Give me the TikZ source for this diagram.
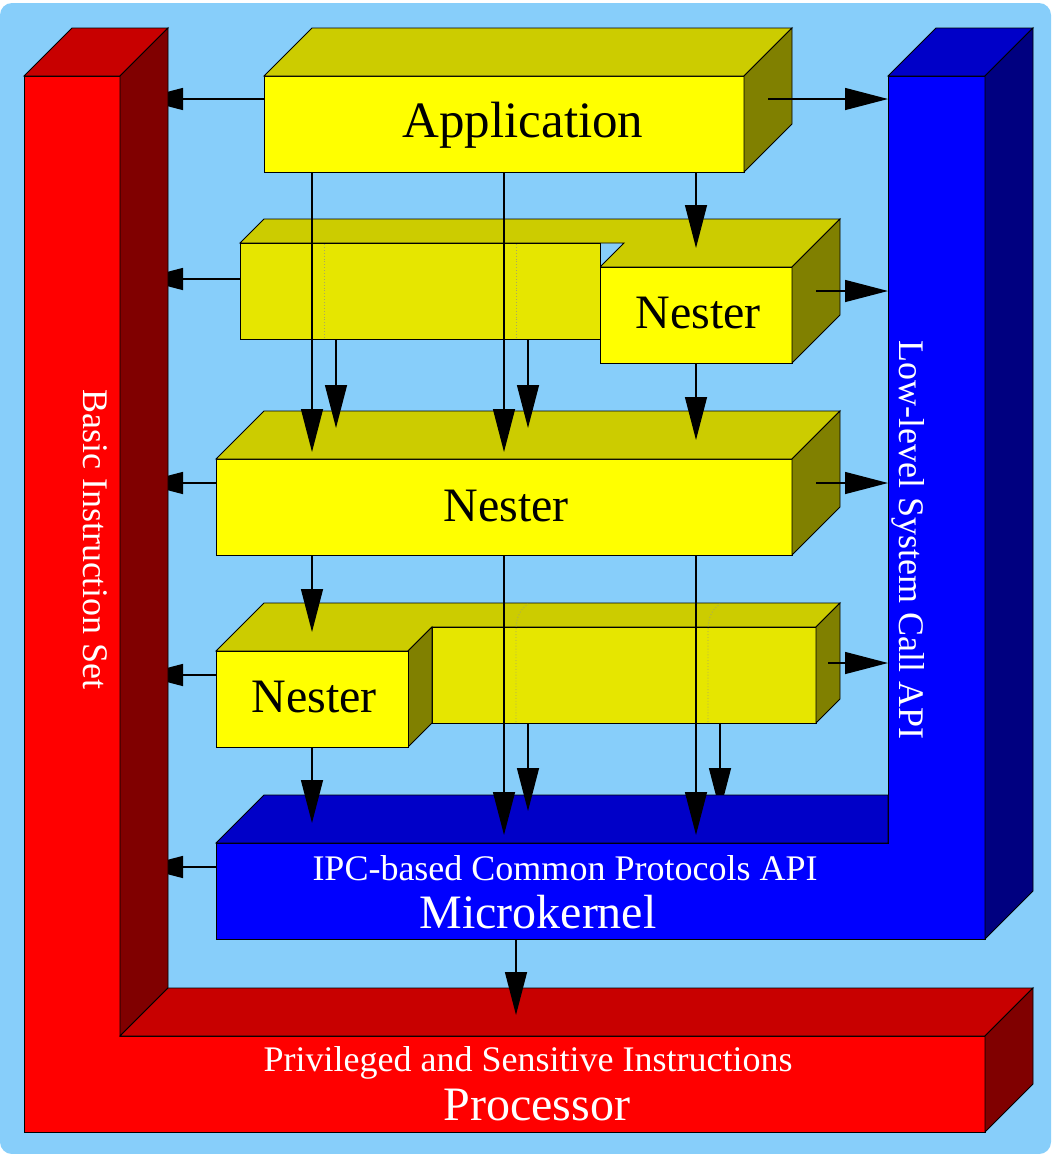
\documentclass[tikz,border=0pt]{standalone}
\usepackage{fontspec}
\setmainfont{Liberation Serif}
\usetikzlibrary{arrows.meta}
\definecolor{bgc}{HTML}{87CEFA}
\definecolor{yfrontc}{HTML}{FFFF00}
\definecolor{yextc}{HTML}{E6E600}
\definecolor{ytopc}{HTML}{CCCC00}
\definecolor{ysidec}{HTML}{808000}
\definecolor{rfrontc}{HTML}{FF0000}
\definecolor{rtopc}{HTML}{C80000}
\definecolor{rsidec}{HTML}{800000}
\definecolor{bfrontc}{HTML}{0000FF}
\definecolor{btopc}{HTML}{0000C8}
\definecolor{bsidec}{HTML}{000080}
\definecolor{dotc}{HTML}{A8A860}
\tikzset{
  face/.style={draw=black, line width=0.9pt, line join=miter},
  flow/.style={line width=1.4pt, -{Triangle[length=43pt,width=22pt]}},
  hiddenline/.style={draw=dotc, line width=0.9pt, dotted},
  lbl/.style={inner sep=0pt, anchor=base},
  bigtext/.style={lbl, font=\fontsize{48}{56}\selectfont},
  apptext/.style={lbl, font=\fontsize{51}{60}\selectfont},
  smalltext/.style={lbl, text=white, font=\fontsize{36}{42}\selectfont},
  bigwhite/.style={lbl, text=white, font=\fontsize{48}{56}\selectfont},
}
\begin{document}
\begin{tikzpicture}[x=1pt,y=-1pt]
\useasboundingbox (0,0) rectangle (1053,1154);
\fill[bgc, rounded corners=12pt] (0,3) rectangle (1051,1154);

% ---- named arrow end points ----
\coordinate (app-b1) at (312,172);  \coordinate (n3-t1) at (312,452);
\coordinate (app-b2) at (504,172);  \coordinate (n3-t2) at (504,452);
\coordinate (app-b3) at (696,172);  \coordinate (n2-t)  at (696,248);
\coordinate (e2-b1)  at (336,339);  \coordinate (n3-t3) at (336,428);
\coordinate (e2-b2)  at (528,339);  \coordinate (n3-t4) at (528,428);
\coordinate (n2-b)   at (696,363);  \coordinate (n3-t5) at (696,440);
\coordinate (n3-b1)  at (312,555);  \coordinate (n4-t)  at (312,632);
\coordinate (n3-b2)  at (504,555);  \coordinate (mk-t1) at (504,835);
\coordinate (n3-b3)  at (696,555);  \coordinate (mk-t2) at (696,835);
\coordinate (n4-b)   at (312,747);  \coordinate (mk-t3) at (312,823);
\coordinate (e4-b1)  at (528,723);  \coordinate (mk-t4) at (528,811);
\coordinate (e4-b2)  at (720,723);  \coordinate (mk-t5) at (720,811);
\coordinate (mk-b)   at (516,939);  \coordinate (pr-t)  at (516,1015);
\coordinate (app-r)  at (768,99);   \coordinate (sys-1) at (888,99);
\coordinate (n2-r)   at (816,291);  \coordinate (sys-2) at (888,291);
\coordinate (n3-r)   at (816,483);  \coordinate (sys-3) at (888,483);
\coordinate (e4-r)   at (828,663);  \coordinate (sys-4) at (888,663);
\coordinate (app-l)  at (264,99);   \coordinate (bis-1) at (140,99);
\coordinate (e2-l)   at (240,279);  \coordinate (bis-2) at (140,279);
\coordinate (n3-l)   at (216,483);  \coordinate (bis-3) at (140,483);
\coordinate (n4-l)   at (216,675);  \coordinate (bis-4) at (140,675);
\coordinate (mk-l)   at (216,867);  \coordinate (bis-5) at (140,867);

% arrow partly hidden by microkernel top face
\draw[flow] (e4-b2) -- (mk-t5);

% ---- blue: system call API column + microkernel ----
\draw[face, fill=bfrontc] (888,76) -- (985,76) -- (985,939) -- (216,939) -- (216,843) -- (888,843) -- cycle;
\draw[face, fill=btopc] (888,76) -- (936,28) -- (1033,28) -- (985,76) -- cycle;
\draw[face, fill=bsidec] (985,76) -- (1033,28) -- (1033,891) -- (985,939) -- cycle;
\draw[face, fill=btopc] (216,843) -- (264,795) -- (888,795) -- (888,843) -- cycle;

% ---- Application ----
\draw[face, fill=yfrontc] (264,76) rectangle (744,172);
\draw[face, fill=ytopc] (264,76) -- (312,28) -- (792,28) -- (744,76) -- cycle;
\draw[face, fill=ysidec] (744,76) -- (792,28) -- (792,124) -- (744,172) -- cycle;

% ---- layer 2 ----
\draw[face, fill=ytopc] (240,243) -- (264,219) -- (840,219) -- (792,267) -- (600,267) -- (624,243) -- cycle;
\draw[face, fill=yextc] (240,243) rectangle (600,339);
\draw[face, fill=yfrontc] (600,267) rectangle (792,363);
\draw[face, fill=ysidec] (792,267) -- (840,219) -- (840,315) -- (792,363) -- cycle;
\draw[hiddenline] (324,244) -- (324,338);
\draw[hiddenline] (516,244) -- (516,338);

% ---- layer 3 ----
\draw[face, fill=yfrontc] (216,459) rectangle (792,555);
\draw[face, fill=ytopc] (216,459) -- (264,411) -- (840,411) -- (792,459) -- cycle;
\draw[face, fill=ysidec] (792,459) -- (840,411) -- (840,507) -- (792,555) -- cycle;

% ---- layer 4 ----
\draw[face, fill=ytopc] (216,651) -- (264,603) -- (840,603) -- (816,627) -- (432,627) -- (408,651) -- cycle;
\draw[face, fill=yextc] (432,627) rectangle (816,723);
\draw[face, fill=ysidec] (816,627) -- (840,603) -- (840,699) -- (816,723) -- cycle;
\draw[face, fill=ysidec] (408,651) -- (432,627) -- (432,723) -- (408,747) -- cycle;
\draw[face, fill=yfrontc] (216,651) rectangle (408,747);
\draw[hiddenline] (516,722) -- (516,630) .. controls (516,616) and (521,609) .. (528,604);
\draw[hiddenline] (708,722) -- (708,630) .. controls (708,616) and (713,609) .. (720,604);

% ---- flows ----
\draw[flow] (app-b1) -- (n3-t1);
\draw[flow] (app-b2) -- (n3-t2);
\draw[flow] (app-b3) -- (n2-t);
\draw[flow] (e2-b1) -- (n3-t3);
\draw[flow] (e2-b2) -- (n3-t4);
\draw[flow] (n2-b) -- (n3-t5);
\draw[flow] (n3-b1) -- (n4-t);
\draw[flow] (n3-b2) -- (mk-t1);
\draw[flow] (n3-b3) -- (mk-t2);
\draw[flow] (n4-b) -- (mk-t3);
\draw[flow] (e4-b1) -- (mk-t4);
\draw[flow] (app-r) -- (sys-1);
\draw[flow] (n2-r) -- (sys-2);
\draw[flow] (n3-r) -- (sys-3);
\draw[flow] (e4-r) -- (sys-4);
\draw[flow] (app-l) -- (bis-1);
\draw[flow] (e2-l) -- (bis-2);
\draw[flow] (n3-l) -- (bis-3);
\draw[flow] (n4-l) -- (bis-4);
\draw[flow] (mk-l) -- (bis-5);

% ---- red: basic instruction set column + processor ----
\draw[face, fill=rfrontc] (24,76) -- (120,76) -- (120,1036) -- (985,1036) -- (985,1132) -- (24,1132) -- cycle;
\draw[face, fill=rtopc] (24,76) -- (72,28) -- (168,28) -- (120,76) -- cycle;
\draw[face, fill=rsidec] (120,76) -- (168,28) -- (168,988) -- (120,1036) -- cycle;
\draw[face, fill=rtopc] (120,1036) -- (168,988) -- (1033,988) -- (985,1036) -- cycle;
\draw[face, fill=rsidec] (985,1036) -- (1033,988) -- (1033,1084) -- (985,1132) -- cycle;

\draw[flow] (mk-b) -- (pr-t);

% ---- texts ----
\node[apptext] (tapp) at (523,137) {Application};
\node[bigtext] (tn2) at (698,328) {Nester};
\node[bigtext] (tn3) at (506,521) {Nester};
\node[bigtext] (tn4) at (314,712) {Nester};
\node[smalltext] (tipc) at (565,880) {IPC-based Common Protocols API};
\node[bigwhite] (tmk) at (538,928) {Microkernel};
\node[smalltext] (tpriv) at (528,1071) {Privileged and Sensitive Instructions};
\node[bigwhite] (tproc) at (537,1120) {Processor};
\node[smalltext, rotate=-90] (tsys) at (899,540) {Low-level System Call API};
\node[smalltext, rotate=-90] (tbis) at (83,539) {Basic Instruction Set};
\end{tikzpicture}
\end{document}
